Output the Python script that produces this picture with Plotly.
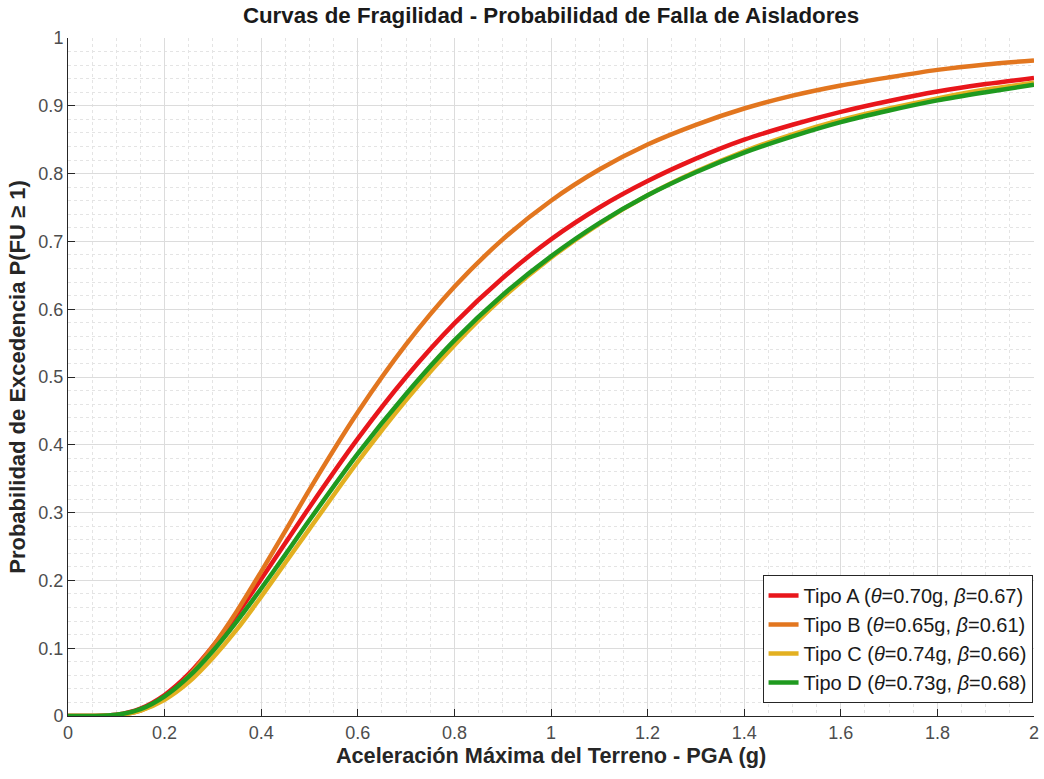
import plotly.graph_objects as go

# PGA values (g) at which curves were read
pga = [0, 0.05, 0.1, 0.15, 0.2, 0.25, 0.3, 0.35, 0.4, 0.45, 0.5, 0.6, 0.7, 0.8, 0.9,
       1.0, 1.1, 1.2, 1.3, 1.4, 1.5, 1.6, 1.7, 1.8, 1.9, 2.0]

tipo_a = [0, 0.0000, 0.0018, 0.011, 0.031, 0.062, 0.103, 0.150, 0.202, 0.255, 0.308, 0.409,
          0.500, 0.579, 0.646, 0.703, 0.750, 0.789, 0.822, 0.850, 0.872, 0.891, 0.907,
          0.921, 0.932, 0.941]
tipo_b = [0, 0.0000, 0.0011, 0.008, 0.027, 0.059, 0.103, 0.155, 0.213, 0.273, 0.334, 0.448,
          0.548, 0.633, 0.703, 0.760, 0.806, 0.843, 0.872, 0.896, 0.915, 0.930, 0.942,
          0.953, 0.961, 0.967]
tipo_c = [0, 0.0000, 0.0012, 0.008, 0.024, 0.050, 0.086, 0.128, 0.176, 0.226, 0.276, 0.375,
          0.466, 0.547, 0.617, 0.676, 0.726, 0.768, 0.803, 0.833, 0.858, 0.879, 0.896,
          0.911, 0.924, 0.934]
tipo_d = [0, 0.0000, 0.0017, 0.010, 0.029, 0.058, 0.096, 0.140, 0.188, 0.238, 0.289, 0.387,
          0.475, 0.554, 0.621, 0.678, 0.727, 0.768, 0.802, 0.831, 0.855, 0.876, 0.893,
          0.908, 0.920, 0.931]

names = ["Tipo A (<i>θ</i>=0.70g, <i>β</i>=0.67)",
         "Tipo B (<i>θ</i>=0.65g, <i>β</i>=0.61)",
         "Tipo C (<i>θ</i>=0.74g, <i>β</i>=0.66)",
         "Tipo D (<i>θ</i>=0.73g, <i>β</i>=0.68)"]
series = [tipo_a, tipo_b, tipo_c, tipo_d]
colors = ["#e8161b", "#e2761f", "#e3b021", "#1f9a1f"]

x_ticks = [0, 0.2, 0.4, 0.6, 0.8, 1, 1.2, 1.4, 1.6, 1.8, 2]
y_ticks = [0, 0.1, 0.2, 0.3, 0.4, 0.5, 0.6, 0.7, 0.8, 0.9, 1]

fig = go.Figure()
for name, ys, c in zip(names, series, colors):
    fig.add_trace(go.Scatter(x=pga, y=ys, mode="lines", name=name,
                             line=dict(color=c, width=4.5, shape="spline", smoothing=0.8)))

font_family = "Liberation Sans, Arial, sans-serif"
axis_common = dict(
    showline=True, linecolor="#262626", linewidth=1, mirror=False,
    ticks="inside", ticklen=7, tickcolor="#262626",
    showgrid=True, gridcolor="#dcdcdc", gridwidth=1,
    zeroline=False, automargin=False,
    tickfont=dict(size=18, color="#4d4d4d", family=font_family),
)

fig.update_layout(
    width=1044, height=779,
    margin=dict(l=68, r=10, t=38, b=63),
    paper_bgcolor="white", plot_bgcolor="white",
    font=dict(family=font_family, color="#262626"),
    title=dict(text="<b>Curvas de Fragilidad - Probabilidad de Falla de Aisladores</b>",
               x=551 / 1044, xanchor="center", y=1 - 15 / 779, yanchor="middle",
               font=dict(size=22.3, color="#1a1a1a")),
    xaxis=dict(range=[0, 2], tickvals=x_ticks,
               minor=dict(dtick=0.05, showgrid=True, gridcolor="#e4e4e4", griddash="dot", ticks=""),
               title=dict(text="<b>Aceleración Máxima del Terreno - PGA (g)</b>",
                          font=dict(size=21.7, color="#262626"), standoff=4),
               **axis_common),
    yaxis=dict(range=[0, 1], tickvals=y_ticks,
               minor=dict(dtick=0.02, showgrid=True, gridcolor="#e4e4e4", griddash="dot", ticks=""),
               title=dict(text="<b>Probabilidad de Excedencia P(FU ≥ 1)</b>",
                          font=dict(size=22, color="#262626"), standoff=6),
               **axis_common),
    legend=dict(x=0.9985, y=0.019, xanchor="right", yanchor="bottom",
                bgcolor="white", bordercolor="#262626", borderwidth=1,
                font=dict(size=20, color="#1a1a1a", family=font_family),
                tracegroupgap=0),
    showlegend=True,
)

fig.write_html("out.html", post_script="document.body.style.margin='0';",
               config={"displayModeBar": False})
